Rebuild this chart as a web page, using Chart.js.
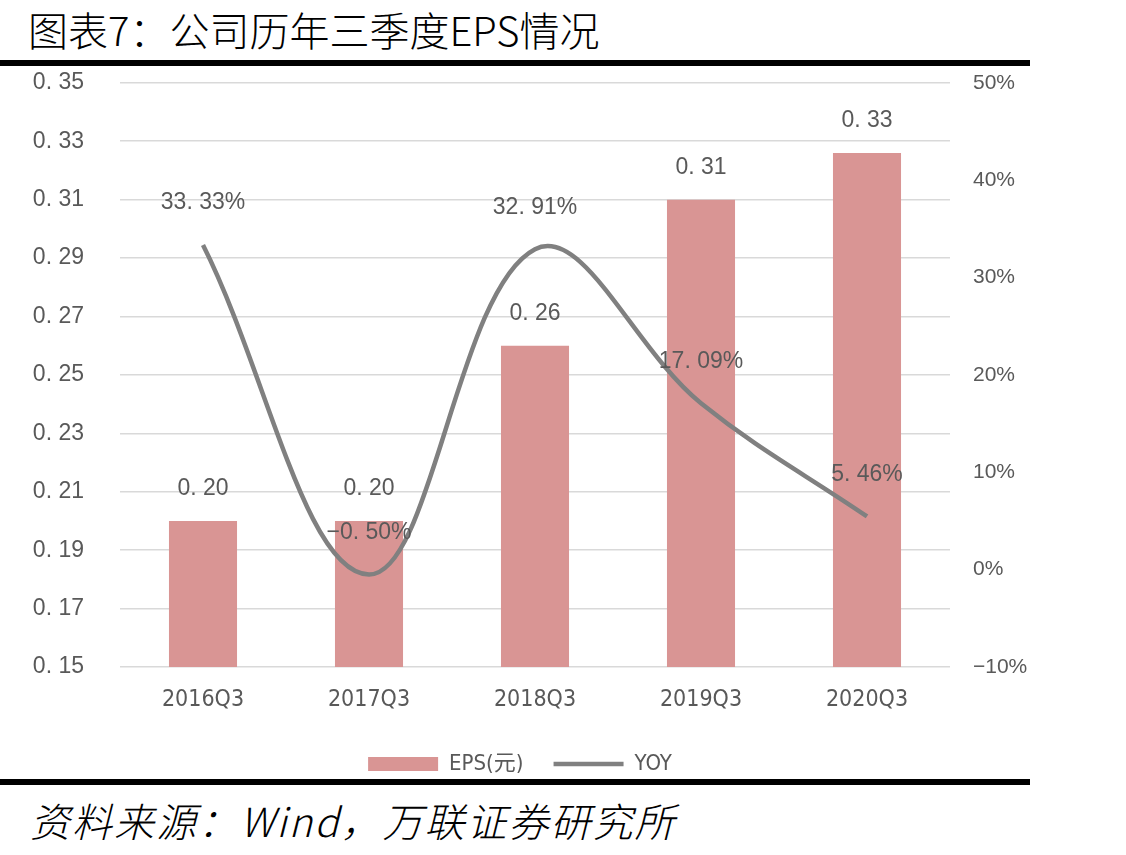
<!DOCTYPE html>
<html>
<head>
<meta charset="utf-8">
<script src="https://cdn.jsdelivr.net/npm/chart.js@4.4.0/dist/chart.umd.min.js"></script>
<style>
    body { margin: 0; background: #fff; width: 1126px; height: 855px; position: relative; overflow: hidden; font-family: "Noto Sans CJK SC", sans-serif; }
    #title { position: absolute; left: 28px; top: 2px; font-size: 40px; line-height: 54px; font-weight: 300; color: #000; white-space: nowrap; }
    .rule { position: absolute; left: 0; width: 1030px; height: 6px; background: #000; }
    #wrap { position: absolute; left: 0; top: 33px; width: 1040px; height: 752px; }
    #source { position: absolute; left: 30px; top: 792px; font-size: 40px; line-height: 56px; letter-spacing: 2px; font-style: italic; font-weight: 300; color: #000; white-space: nowrap; }
</style>
</head>
<body>
<div id="title">图表7：公司历年三季度EPS情况</div>
<div id="wrap"><canvas id="epsChart"></canvas></div>
<div class="rule" style="top:60px"></div>
<div class="rule" style="top:779px"></div>
<div id="source">资料来源：Wind，万联证券研究所</div>

<script>
const categories = ["2016Q3", "2017Q3", "2018Q3", "2019Q3", "2020Q3"];
const epsValues = [0.200, 0.200, 0.260, 0.310, 0.326];
const yoyValues = [33.33, -0.50, 32.91, 17.09, 5.46];

const textColor = "#595959";
const narrowFont = "'DejaVu Sans Condensed', 'Liberation Sans', 'Noto Sans CJK SC'";

// "0.20" -> "0. 20" like the original report font
function spaced(str) {
    return str.replace("-", "\u2212").replace(".", ". ");
}

// draws the value labels above bars and line points
const valueLabels = {
    id: "valueLabels",
    afterDatasetsDraw(chart) {
        const ctx = chart.ctx;
        ctx.save();
        ctx.fillStyle = textColor;
        ctx.font = "23px 'Liberation Sans'";
        ctx.textAlign = "center";
        ctx.textBaseline = "middle";
        chart.getDatasetMeta(0).data.forEach((bar, i) => {
            ctx.fillText(spaced(epsValues[i].toFixed(2)), bar.x, bar.y - 32);
        });
        chart.getDatasetMeta(1).data.forEach((pt, i) => {
            ctx.fillText(spaced(yoyValues[i].toFixed(2)) + "%", pt.x, pt.y - 42);
        });
        ctx.restore();
    }
};

new Chart(document.getElementById("epsChart").getContext("2d"), {
    data: {
        labels: categories,
        datasets: [{
            type: "bar",
            label: "EPS(元)",
            data: epsValues,
            backgroundColor: "#D99594",
            borderWidth: 0,
            categoryPercentage: 1,
            barPercentage: 0.41,
            yAxisID: "y",
            order: 2,
            pointStyle: "rect",
        }, {
            type: "line",
            label: "YOY",
            data: yoyValues,
            borderColor: "#808080",
            backgroundColor: "#808080",
            borderWidth: 4.5,
            tension: 0.38,
            pointRadius: 0,
            yAxisID: "y1",
            order: 1,
            pointStyle: "line",
        }],
    },
    options: {
        responsive: true,
        maintainAspectRatio: false,
        animation: false,
        layout: { padding: { top: 14, bottom: 0 } },
        plugins: {
            tooltip: { enabled: false },
            legend: {
                position: "bottom",
                labels: {
                    usePointStyle: true,
                    pointStyleWidth: 70,
                    boxHeight: 14,
                    padding: 30,
                    color: textColor,
                    font: { family: narrowFont, size: 22 },
                    sort: (a, b) => a.datasetIndex - b.datasetIndex,
                },
            },
        },
        scales: {
            x: {
                grid: { display: false },
                border: { display: false },
                ticks: {
                    color: textColor,
                    padding: 11,
                    font: { family: narrowFont, size: 23 },
                },
                afterFit: (s) => { s.height = 56; },
            },
            y: {
                position: "left",
                min: 0.15,
                max: 0.35,
                border: { display: false },
                grid: { color: "#D9D9D9", lineWidth: 1.5, drawTicks: false },
                ticks: {
                    stepSize: 0.02,
                    padding: 36,
                    color: textColor,
                    font: { family: "'Liberation Sans'", size: 23 },
                    callback: (v) => spaced(v.toFixed(2)),
                },
                afterFit: (s) => { s.width = 120; },
            },
            y1: {
                position: "right",
                min: -10,
                max: 50,
                border: { display: false },
                grid: { display: false, drawTicks: false },
                ticks: {
                    stepSize: 10,
                    padding: 23,
                    color: textColor,
                    font: { family: "'Liberation Sans'", size: 21 },
                    callback: (v) => String(v).replace("-", "\u2212") + "%",
                },
                afterFit: (s) => { s.width = 90; },
            },
        },
    },
    plugins: [valueLabels],
});
</script>
</body>
</html>
